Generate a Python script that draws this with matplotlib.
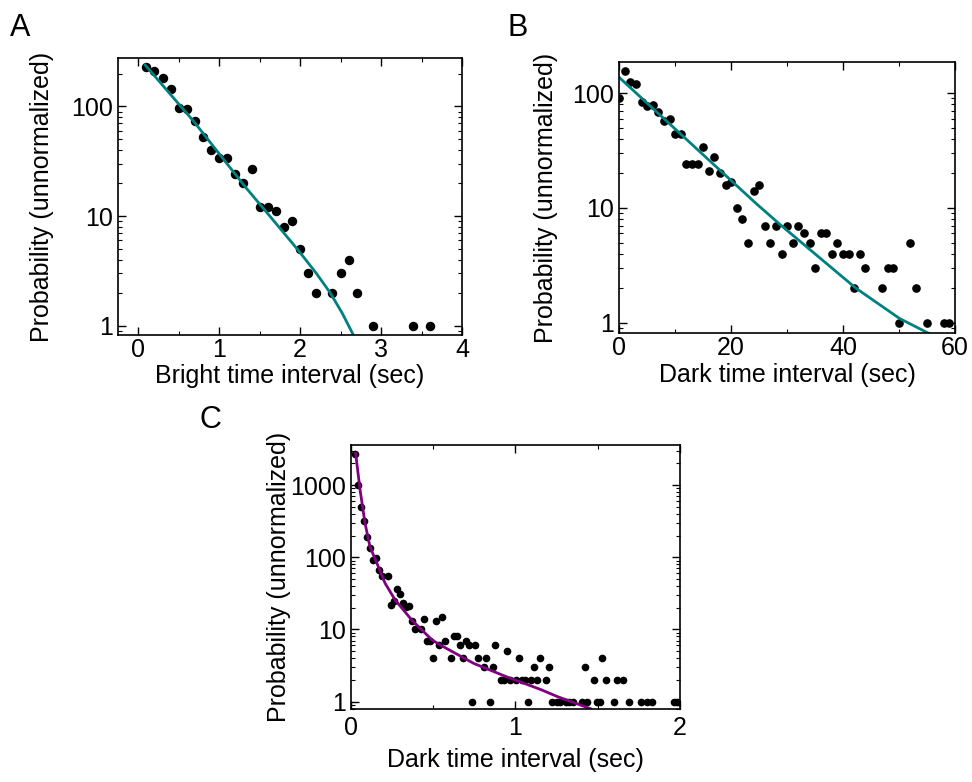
import numpy as np
import matplotlib
matplotlib.use('Agg')
import matplotlib.pyplot as plt
from matplotlib.ticker import FixedLocator, NullFormatter, LogLocator

plt.rcParams['font.family'] = ['Liberation Sans', 'DejaVu Sans']
plt.rcParams['font.size'] = 18

# Panel A: bright time intervals
bright_t = [0.1, 0.2, 0.3, 0.4, 0.5, 0.6, 0.7, 0.8, 0.9, 1.0, 1.1, 1.2, 1.3, 1.4,
            1.5, 1.6, 1.7, 1.8, 1.9, 2.0, 2.1, 2.2, 2.4, 2.5, 2.6, 2.7, 2.9, 3.4, 3.6]
bright_p = [230, 210, 182, 145, 96, 94, 73, 53, 40, 34, 34, 24, 20, 27,
            12, 12, 11, 8, 9, 5, 3, 2, 2, 3, 4, 2, 1, 1, 1]
fit_a_x = [0.086, 0.683, 1.321, 1.630, 1.979, 2.200, 2.370, 2.520, 2.658]
fit_a_y = [239, 73.5, 18.5, 9.9, 4.85, 3.0, 2.0, 1.3, 0.82]

# Panel B: dark time intervals (long)
dark_t = [0, 1, 2, 3, 4, 5, 6, 7, 8, 9, 10, 11, 12, 13, 14, 15, 16, 17, 18, 19, 20,
          21, 22, 23, 24, 25, 26, 27, 28, 29, 30, 31, 32, 33, 34, 35, 36, 37, 38, 39,
          40, 41, 42, 43, 44, 47, 48, 49, 50, 52, 53, 55, 58, 59]
dark_p = [90, 157, 124, 121, 84, 77, 79, 68, 57, 60, 44, 44, 24, 24, 24, 34, 21, 28, 20, 16, 17,
          10, 8, 5, 14, 16, 7, 5, 7, 4, 7, 5, 7, 6, 5, 3, 6, 6, 4, 5,
          4, 4, 2, 4, 3, 2, 3, 3, 1, 5, 2, 1, 1, 1]
fit_b_x = [0, 24.4, 28.85, 42.3, 50.1, 55.5]
fit_b_y = [137, 11.0, 7.1, 2.0, 1.09, 0.80]

# Panel C: dark time intervals (short)
short_t = [0.028, 0.046, 0.064, 0.083, 0.101, 0.119, 0.138, 0.156, 0.174, 0.193,
           0.228, 0.246, 0.265, 0.284, 0.302, 0.320, 0.338, 0.356, 0.374, 0.392,
           0.428, 0.446, 0.464, 0.483, 0.501, 0.519, 0.538, 0.556, 0.572,
           0.609, 0.627, 0.645, 0.663, 0.682, 0.700, 0.718, 0.736, 0.753, 0.771,
           0.807, 0.824, 0.844, 0.862, 0.878,
           0.915, 0.931, 0.951, 0.968, 1.004, 1.024, 1.041, 1.059, 1.077, 1.095,
           1.114, 1.132, 1.150, 1.187, 1.205, 1.221, 1.254, 1.270, 1.307, 1.323, 1.349,
           1.403, 1.421, 1.437, 1.475, 1.493, 1.512, 1.529, 1.548, 1.598, 1.619,
           1.655, 1.690, 1.761, 1.797, 1.831, 1.963, 1.984]
short_p = [2700, 1000, 500, 315, 192, 135, 93, 97, 67, 55,
           55, 22, 25, 36, 31, 23, 20.7, 21, 13, 10,
           10, 14, 7, 7, 4, 13, 6, 15, 7,
           4, 8, 8, 6, 4, 7, 6, 1, 6, 4,
           3, 4, 1, 3, 6,
           2, 2, 5, 2, 2, 4, 2, 2, 1, 2,
           3, 2, 4, 2, 3, 1, 1, 1, 1, 1, 1,
           1, 3, 1, 2, 1, 1, 4, 2, 1, 2,
           2, 1, 1, 1, 1, 1, 1]
fit_c_x = [0.030, 0.057, 0.087, 0.117, 0.168, 0.209, 0.270, 0.371, 0.493, 0.544,
           0.746, 0.949, 1.152, 1.254, 1.456]
fit_c_y = [2757, 855, 296, 140, 74, 43.6, 25.6, 13.5, 7.2, 6.1,
           3.4, 2.2, 1.48, 1.18, 0.80]

teal = '#008080'
purple = '#800080'


def style(ax, xmajor, xminor, ymajor, ylim, xlim, xpad=2):
    ax.set_yscale('log')
    ax.set_xlim(*xlim)
    ax.set_ylim(*ylim)
    ax.set_xticks(xmajor)
    ax.xaxis.set_minor_locator(FixedLocator(xminor))
    ax.set_yticks(ymajor)
    ax.set_yticklabels([str(v) for v in ymajor])
    ax.yaxis.set_minor_locator(LogLocator(base=10, subs=np.arange(2, 10)))
    ax.yaxis.set_minor_formatter(NullFormatter())
    ax.tick_params(which='both', direction='in', top=True, right=True, labelsize=18)
    ax.tick_params(which='major', length=6, width=1)
    ax.tick_params(which='minor', length=3, width=0.8)
    ax.tick_params(axis='x', pad=xpad)
    for s in ax.spines.values():
        s.set_linewidth(1.2)


fig = plt.figure(figsize=(9.72, 7.82), dpi=100)

axA = fig.add_axes([0.1214, 0.5716, 0.3539, 0.3542])
axA.plot(bright_t, bright_p, 'o', color='black', markersize=5.8)
axA.plot(fit_a_x, fit_a_y, '-', color=teal, lw=2)
style(axA, [0, 1, 2, 3, 4], [-0.5, 0.5, 1.5, 2.5, 3.5], [1, 10, 100], (0.82, 277), (-0.25, 4.0))
axA.set_xlabel('Bright time interval (sec)')
axA.set_ylabel('Probability (unnormalized)')
axA.xaxis.set_label_coords(0.5, -0.103)
axA.yaxis.set_label_coords(-0.186, 0.5)

axB = fig.add_axes([0.6371, 0.5738, 0.3454, 0.3473])
axB.plot(dark_t, dark_p, 'o', color='black', markersize=5.2)
axB.plot(fit_b_x, fit_b_y, '-', color=teal, lw=2)
style(axB, [0, 20, 40, 60], [10, 30, 50], [1, 10, 100], (0.81, 188), (0, 60))
axB.set_xlabel('Dark time interval (sec)')
axB.set_ylabel('Probability (unnormalized)')
axB.xaxis.set_label_coords(0.5, -0.109)
axB.yaxis.set_label_coords(-0.183, 0.5)

axC = fig.add_axes([0.3608, 0.0930, 0.3388, 0.3380])
axC.plot(short_t, short_p, 'o', color='black', markersize=4.5)
axC.plot(fit_c_x, fit_c_y, '-', color=purple, lw=2)
style(axC, [0, 1, 2], [0.5, 1.5], [1, 10, 100, 1000], (0.785, 3590), (0, 2.0), xpad=5)
axC.set_xlabel('Dark time interval (sec)')
axC.set_ylabel('Probability (unnormalized)')
axC.xaxis.set_label_coords(0.5, -0.148)
axC.yaxis.set_label_coords(-0.182, 0.5)

fig.text(0.010, 0.983, 'A', fontsize=22, va='top')
fig.text(0.522, 0.983, 'B', fontsize=22, va='top')
fig.text(0.205, 0.482, 'C', fontsize=22, va='top')

fig.savefig('out.png', dpi=100)
